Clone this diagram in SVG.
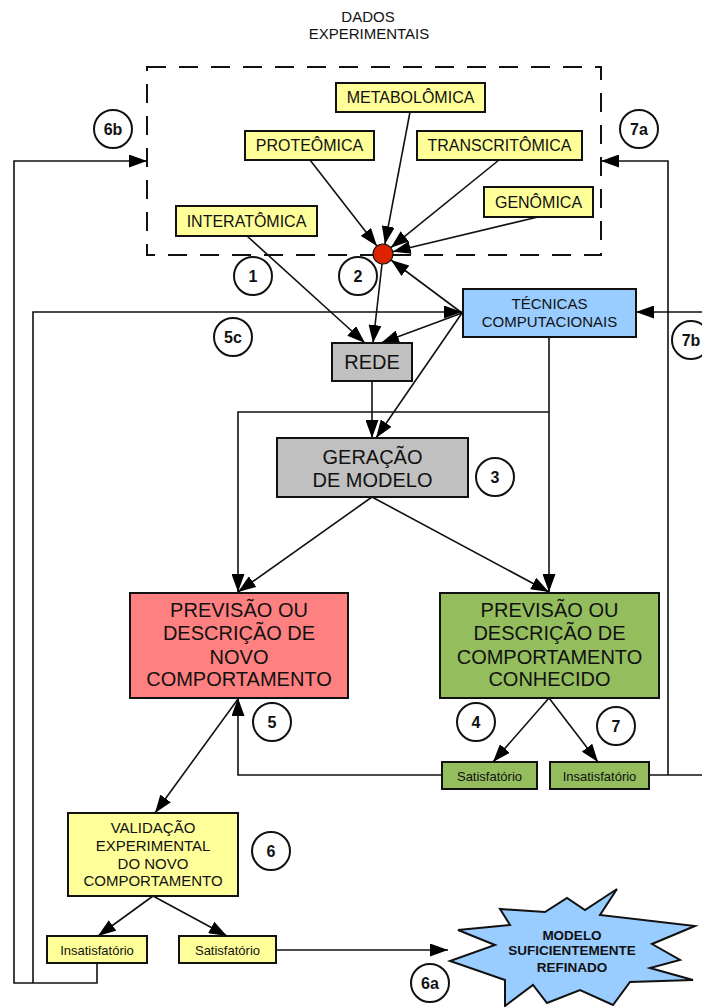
<svg xmlns="http://www.w3.org/2000/svg" width="702" height="1007" viewBox="0 0 702 1007">
<defs>
<marker id="ah" markerUnits="userSpaceOnUse" markerWidth="18" markerHeight="13" refX="18" refY="6.5" orient="auto">
<path d="M0,0 L18,6.5 L0,13 z" fill="#000"/>
</marker>
<style>
.box{stroke:#111;stroke-width:2}
.y{fill:#ffff99}.b{fill:#99ccff}.g{fill:#c0c0c0}.r{fill:#ff8080}.gr{fill:#94bd5e}
.t{font-family:"Liberation Sans",Arial,sans-serif;fill:#111;text-anchor:middle}
.c{fill:#fff;stroke:#111;stroke-width:2}
.n{font-family:"Liberation Sans",Arial,sans-serif;font-weight:bold;font-size:16px;fill:#111;text-anchor:middle}
.ln{fill:none;stroke:#111;stroke-width:1.6}
.ar{marker-end:url(#ah)}
</style>
</defs>
<rect width="702" height="1007" fill="#fff"/>
<g id="title"><text class="t" x="368" y="22" font-size="15">DADOS</text><text class="t" x="369" y="38.5" font-size="15">EXPERIMENTAIS</text></g>
<rect id="dados" x="147" y="67" width="454" height="188" fill="none" stroke="#111" stroke-width="2" stroke-dasharray="19 13"/>
<g id="connectors">
<path class="ln ar" d="M310,160 L376.9,246.1"/>
<path class="ln ar" d="M410,112 L384.9,244.2"/>
<path class="ln ar" d="M499,160 L390.8,247.7"/>
<path class="ln ar" d="M538,217 L392.7,251.7"/>
<path class="ln ar" d="M462,313 L391,260"/>
<path class="ln ar" d="M382,264 L373,343"/>
<path class="ln ar" d="M462,313 L381,343"/>
<path class="ln ar" d="M247,236 L365,343"/>
<path class="ln ar" d="M33,983 V312 H462"/>
<path class="ln ar" d="M97,963 V983 H14 V161 H147"/>
<path class="ln" d="M649,775 H702"/>
<path class="ln ar" d="M668,775 V161 H601"/>
<path class="ln ar" d="M702,312 H636"/>
<path class="ln ar" d="M372,381 V438"/>
<path class="ln ar" d="M462,313 L376,438"/>
<path class="ln ar" d="M549,337 V592"/>
<path class="ln ar" d="M549,412 H238 V592"/>
<path class="ln ar" d="M372,497 L238,592"/>
<path class="ln ar" d="M372,497 L549,592"/>
<path class="ln ar" d="M442,775 H238 V698"/>
<path class="ln ar" d="M238,699 L155,813"/>
<path class="ln ar" d="M549,698 L493,762"/>
<path class="ln ar" d="M549,698 L598,762"/>
<path class="ln ar" d="M153,896 L98,936"/>
<path class="ln ar" d="M153,896 L227,936"/>
<path class="ln ar" d="M276,950 H448"/>
</g>
<g id="metabolomica"><rect class="box y" x="336" y="83" width="149" height="29"/><text class="t" x="410.5" y="103" font-size="16">METABOLÔMICA</text></g>
<g id="proteomica"><rect class="box y" x="245" y="131" width="129" height="29"/><text class="t" x="309.5" y="151" font-size="16">PROTEÔMICA</text></g>
<g id="transcritomica"><rect class="box y" x="417" y="131" width="165" height="29"/><text class="t" x="499.5" y="151" font-size="16">TRANSCRITÔMICA</text></g>
<g id="genomica"><rect class="box y" x="484" y="187" width="109" height="30"/><text class="t" x="538.5" y="207.5" font-size="16">GENÔMICA</text></g>
<g id="interatomica"><rect class="box y" x="176" y="206" width="141" height="30"/><text class="t" x="246.5" y="226.5" font-size="16">INTERATÔMICA</text></g>
<g id="dot"><circle cx="383" cy="254" r="10" fill="#dd2200" stroke="#111" stroke-width="1.2"/></g>
<g id="tecnicas"><rect class="box b" x="463" y="289" width="173" height="48"/><text class="t" x="549.5" y="309" font-size="15">TÉCNICAS</text><text class="t" x="549.5" y="326.5" font-size="15">COMPUTACIONAIS</text></g>
<g id="rede"><rect class="box g" x="332" y="343" width="80" height="38"/><text class="t" x="372" y="369" font-size="20">REDE</text></g>
<g id="geracao"><rect class="box g" x="277" y="438" width="191" height="59"/><text class="t" x="372.5" y="463.5" font-size="20">GERAÇÃO</text><text class="t" x="372.5" y="487" font-size="20">DE MODELO</text></g>
<g id="novo"><rect class="box r" x="130" y="593" width="218" height="105"/>
<text class="t" x="239" y="617" font-size="20">PREVISÃO OU</text><text class="t" x="239" y="640" font-size="20">DESCRIÇÃO DE</text><text class="t" x="239" y="663.5" font-size="20">NOVO</text><text class="t" x="239" y="686" font-size="20">COMPORTAMENTO</text></g>
<g id="conhecido"><rect class="box gr" x="440" y="593" width="219" height="105"/>
<text class="t" x="549.5" y="617" font-size="20">PREVISÃO OU</text><text class="t" x="549.5" y="640" font-size="20">DESCRIÇÃO DE</text><text class="t" x="549.5" y="663.5" font-size="20">COMPORTAMENTO</text><text class="t" x="549.5" y="686" font-size="20">CONHECIDO</text></g>
<g id="satisf-g"><rect class="box gr" x="442" y="762" width="95" height="27"/><text class="t" x="489.5" y="780.5" font-size="13">Satisfatório</text></g>
<g id="insatisf-g"><rect class="box gr" x="550" y="762" width="99" height="27"/><text class="t" x="599.5" y="780.5" font-size="13">Insatisfatório</text></g>
<g id="validacao"><rect class="box y" x="68" y="813" width="170" height="83"/>
<text class="t" x="153" y="833" font-size="15">VALIDAÇÃO</text><text class="t" x="153" y="851" font-size="15">EXPERIMENTAL</text><text class="t" x="153" y="868.5" font-size="15">DO NOVO</text><text class="t" x="153" y="886" font-size="15">COMPORTAMENTO</text></g>
<g id="insatisf-y"><rect class="box y" x="47" y="936" width="100" height="27"/><text class="t" x="97" y="954.5" font-size="13">Insatisfatório</text></g>
<g id="satisf-y"><rect class="box y" x="179" y="936" width="97" height="27"/><text class="t" x="227.5" y="954.5" font-size="13">Satisfatório</text></g>
<g id="modelo"><path d="M617,889 L600,915 L695,926 L652,944 L680,960 L650,968 L693,980 L630,982 L613,1005 L580,990 L547,1003 L533,985 L505,1006 L505,980 L450,961 L495,945 L458,930 L510,925 L500,909 L545,912 L567,898 L585,910 Z" fill="#99ccff" stroke="#111" stroke-width="2" stroke-linejoin="miter"/>
<text class="t" x="572" y="940" font-size="13.5" font-weight="bold">MODELO</text><text class="t" x="572" y="955" font-size="13.5" font-weight="bold">SUFICIENTEMENTE</text><text class="t" x="572" y="971.5" font-size="13.5" font-weight="bold">REFINADO</text></g>
<g id="labels">
<circle class="c" cx="253" cy="276" r="19"/><text class="n" x="253" y="281.5">1</text>
<circle class="c" cx="358" cy="276" r="19"/><text class="n" x="358" y="281.5">2</text>
<circle class="c" cx="233" cy="337" r="19"/><text class="n" x="233" y="342.5">5c</text>
<circle class="c" cx="495" cy="477" r="19"/><text class="n" x="495" y="482.5">3</text>
<circle class="c" cx="272" cy="722" r="19"/><text class="n" x="272" y="727.5">5</text>
<circle class="c" cx="476" cy="722" r="19"/><text class="n" x="476" y="727.5">4</text>
<circle class="c" cx="616" cy="726" r="19"/><text class="n" x="616" y="731.5">7</text>
<circle class="c" cx="271" cy="851" r="19"/><text class="n" x="271" y="856.5">6</text>
<circle class="c" cx="430" cy="983" r="19"/><text class="n" x="430" y="988.5">6a</text>
<circle class="c" cx="113" cy="129" r="19"/><text class="n" x="113" y="134.5">6b</text>
<circle class="c" cx="639" cy="129" r="19"/><text class="n" x="639" y="134.5">7a</text>
<circle class="c" cx="691" cy="340" r="19"/><text class="n" x="691" y="345.5">7b</text>
</g>
</svg>
